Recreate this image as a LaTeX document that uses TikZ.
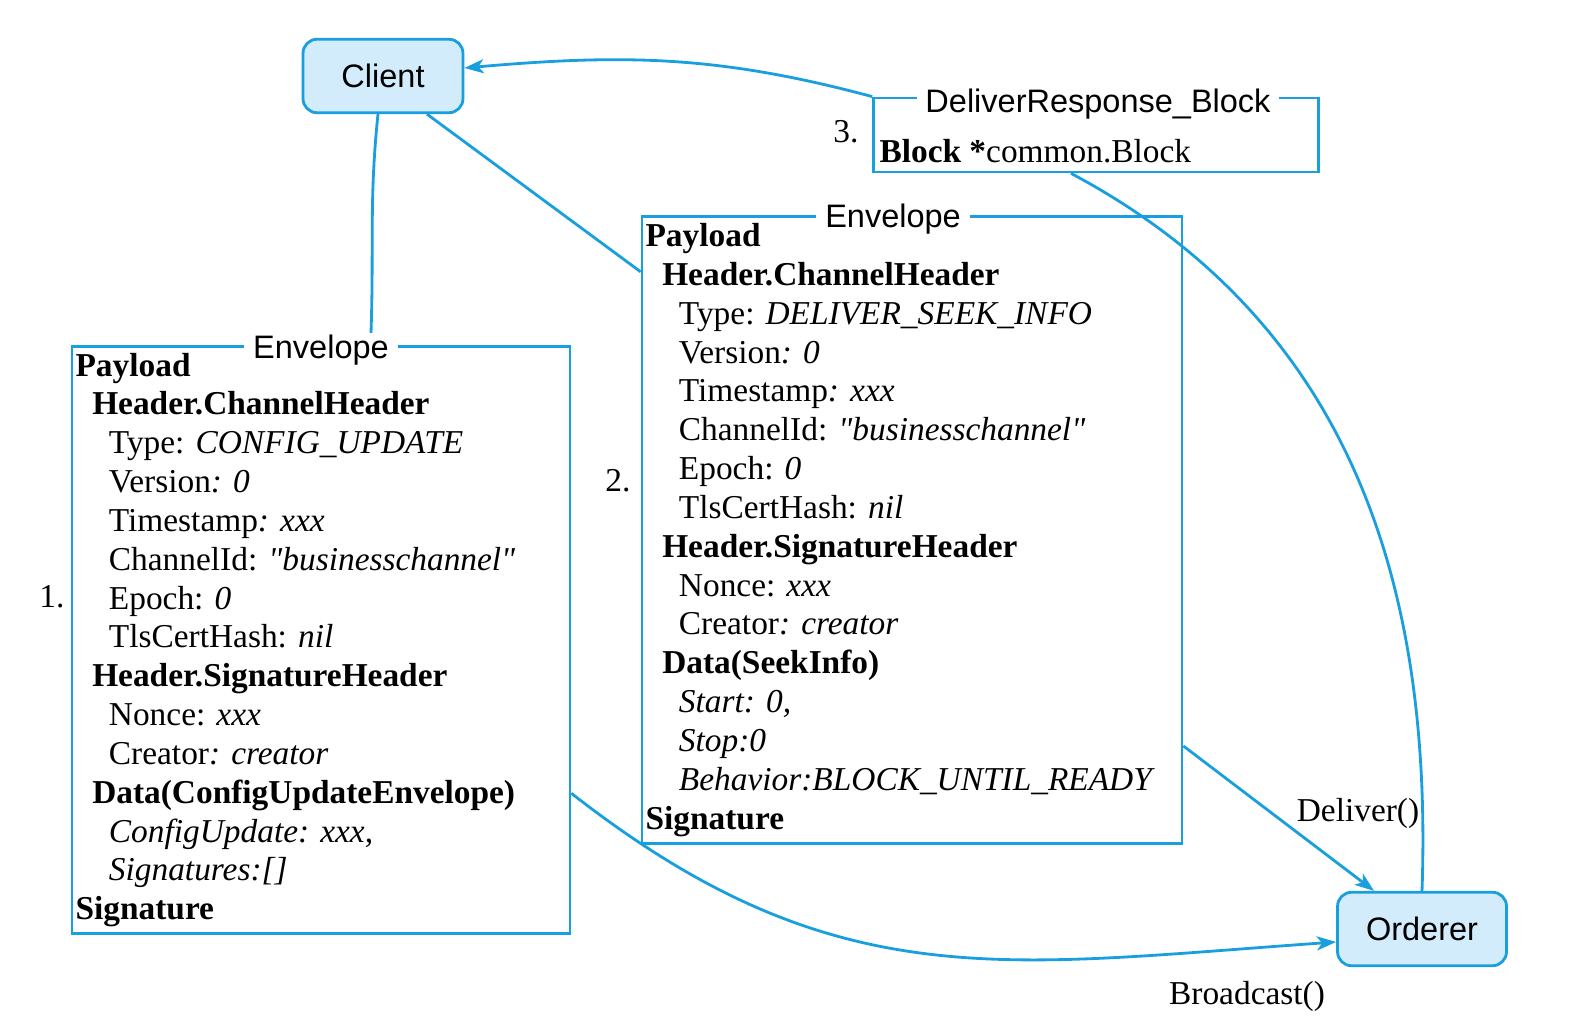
\documentclass[tikz,border=0pt]{standalone}
\usepackage{fontspec}
\setmainfont{Liberation Serif}[Ligatures=TeXOff]
\newfontfamily\labelfont{Liberation Sans}
\usetikzlibrary{arrows.meta, positioning, calc}
\definecolor{lineblue}{HTML}{1A9FDE}
\definecolor{boxfill}{HTML}{D2ECFB}
\newcommand{\ind}{\hspace*{0.5em}}
\frenchspacing

\begin{document}
\begin{tikzpicture}[
  x=0.02cm, y=0.02cm,
  party/.style={draw=lineblue, fill=boxfill, line width=1.6pt, rounded corners=8pt,
                minimum width=3.2cm, minimum height=1.47cm,
                font=\labelfont\fontsize{18.5}{22}\selectfont},
  envbox/.style={draw=lineblue, line width=1.6pt, align=left, inner xsep=2pt, inner ysep=0pt,
                 font=\fontsize{19}{22.1}\selectfont},
  envtitle/.style={fill=white, inner xsep=5pt, inner ysep=1pt,
                   font=\labelfont\fontsize{18.5}{22}\selectfont},
  lbl/.style={font=\fontsize{19}{22}\selectfont, inner sep=0pt},
  link/.style={draw=lineblue, line width=1.6pt},
  arr/.style={link, -{Stealth[length=11pt, width=8pt, inset=3pt]}}
]
\useasboundingbox (0,0) rectangle (1577,1023);

% parties
\node[party] (client) at (383,947) {Client};
\node[party, minimum width=3.38cm] (orderer) at (1422,94) {Orderer};

% envelope sent with Broadcast()
\node[envbox, text width=9.96cm-4pt, minimum height=11.74cm] (env1) at (321,383) {%
\textbf{Payload}\\
\ind\textbf{Header.ChannelHeader}\\
\ind\ind Type: \textit{CONFIG\_UPDATE}\\
\ind\ind Version\textit{: 0}\\
\ind\ind Timestamp\textit{: xxx}\\
\ind\ind ChannelId: \textit{"businesschannel"}\\
\ind\ind Epoch: \textit{0}\\
\ind\ind TlsCertHash: \textit{nil}\\
\ind\textbf{Header.SignatureHeader}\\
\ind\ind Nonce: \textit{xxx}\\
\ind\ind Creator\textit{: creator}\\
\ind\textbf{Data(ConfigUpdateEnvelope)}\\
\ind\ind\textit{ConfigUpdate: xxx,}\\
\ind\ind\textit{Signatures:[]}\\
\textbf{Signature}};
\node[envtitle] (t1) at ([yshift=-0.1cm]env1.north) {Envelope};

% envelope sent with Deliver()
\node[envbox, text width=10.8cm-4pt, minimum height=12.54cm] (env2) at (912,493) {%
\textbf{Payload}\\
\ind\textbf{Header.ChannelHeader}\\
\ind\ind Type: \textit{DELIVER\_SEEK\_INFO}\\
\ind\ind Version\textit{: 0}\\
\ind\ind Timestamp\textit{: xxx}\\
\ind\ind ChannelId: \textit{"businesschannel"}\\
\ind\ind Epoch: \textit{0}\\
\ind\ind TlsCertHash: \textit{nil}\\
\ind\textbf{Header.SignatureHeader}\\
\ind\ind Nonce: \textit{xxx}\\
\ind\ind Creator\textit{: creator}\\
\ind\textbf{Data(SeekInfo)}\\
\ind\ind\textit{Start: 0,}\\
\ind\ind\textit{Stop:0}\\
\ind\ind\textit{Behavior:BLOCK\_UNTIL\_READY}\\
\textbf{Signature}};
\node[envtitle] (t2) at ([xshift=-0.38cm, yshift=-0.08cm]env2.north) {Envelope};

% response
\node[draw=lineblue, line width=1.6pt, minimum width=8.9cm, minimum height=1.48cm] (resp) at (1096,888) {};
\node[lbl, anchor=base west, font=\fontsize{19}{22}\selectfont] (blockline)
  at ($(resp.south west)+(4pt,0.22cm)$) {\textbf{Block *}common.Block};
\node[envtitle] (t3) at ([xshift=0.04cm, yshift=-0.16cm]resp.north) {DeliverResponse\_Block};

% step numbers and calls
\node[lbl] (n1) at (52,426) {1.};
\node[lbl] (n2) at (618,542) {2.};
\node[lbl] (n3) at (846,891) {3.};
\node[lbl] (deliver) at (1358,210) {Deliver()};
\node[lbl] (broadcast) at (1247,27) {Broadcast()};

% connectors
\draw[link] ([xshift=-0.1cm]client.south) to[out=-96,in=88] ([xshift=1cm]t1.north);
\draw[link] ([xshift=0.88cm]client.south) -- ($(env2.north west)!0.09!(env2.south west)$);
\draw[arr] (resp.north west) to[out=165,in=5] ([yshift=0.16cm]client.east);
\draw[link] ([xshift=-0.5cm]resp.south) to[out=-28,in=88] (orderer.north);
\draw[arr] ($(env2.north east)!0.843!(env2.south east)$) -- ([xshift=-0.96cm]orderer.north);
\draw[arr] ($(env1.north east)!0.76!(env1.south east)$) to[out=-38,in=184,looseness=1.1] ([yshift=-0.26cm]orderer.west);
\end{tikzpicture}
\end{document}
